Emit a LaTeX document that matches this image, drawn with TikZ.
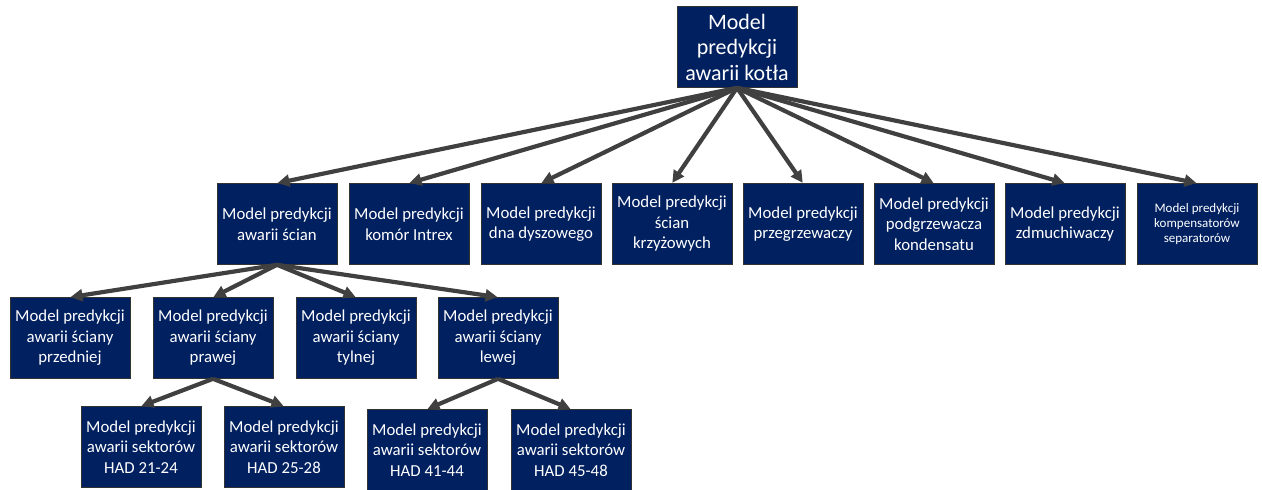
\documentclass[tikz,border=0pt]{standalone}
\usepackage{fontspec}
\setmainfont{Carlito}
\usepackage{xcolor}
\usetikzlibrary{arrows.meta,positioning}
\definecolor{boxblue}{RGB}{0,32,96}
\definecolor{arrowgray}{RGB}{64,64,64}

\begin{document}
\begin{tikzpicture}[x=1pt,y=-1pt,>=Latex,
  box/.style={rectangle,draw=black!80,line width=0.6pt,fill=boxblue,text=white,
    minimum width=120pt,minimum height=81pt,align=center,inner sep=2pt,
    font=\fontsize{16.8}{20.5}\selectfont},
  rootbox/.style={box,font=\fontsize{22}{25.5}\selectfont},
  smallbox/.style={box,font=\fontsize{13}{15}\selectfont},
  link/.style={-{Triangle[length=12pt,width=12pt]},line width=4.2pt,arrowgray,shorten >=0.5pt}]
  \useasboundingbox (0,0) rectangle (1262,490);
  % root
  \node[rootbox] (root) at (737,47) {Model\\predykcji\\awarii kotła};
  % second level
  \node[box] (walls)  at (277,224) {Model predykcji\\awarii ścian};
  \node[box] (intrex) at (409,224) {Model predykcji\\komór Intrex};
  \node[box] (bottom) at (541,224) {Model predykcji\\dna dyszowego};
  \node[box] (cross)  at (672,224) {Model predykcji\\ścian\\krzyżowych};
  \node[box] (super)  at (803,224) {Model predykcji\\przegrzewaczy};
  \node[box] (reheat) at (934,224) {Model predykcji\\podgrzewacza\\kondensatu};
  \node[box] (blower) at (1065,224) {Model predykcji\\zdmuchiwaczy};
  \node[smallbox] (comp) at (1197,224) {Model predykcji\\kompensatorów\\separatorów};
  % walls
  \node[box] (front) at (70,338)  {Model predykcji\\awarii ściany\\przedniej};
  \node[box] (right) at (213,338) {Model predykcji\\awarii ściany\\prawej};
  \node[box] (back)  at (356,338) {Model predykcji\\awarii ściany\\tylnej};
  \node[box] (left)  at (498,338) {Model predykcji\\awarii ściany\\lewej};
  % sectors
  \node[box] (had21) at (141,447) {Model predykcji\\awarii sektorów\\HAD 21-24};
  \node[box] (had25) at (284,447) {Model predykcji\\awarii sektorów\\HAD 25-28};
  \node[box] (had41) at (427,450) {Model predykcji\\awarii sektorów\\HAD 41-44};
  \node[box] (had45) at (571,450) {Model predykcji\\awarii sektorów\\HAD 45-48};
  % connectors
  \foreach \n in {walls,intrex,bottom,cross,super,reheat,blower,comp}
    \draw[link] (root.south) -- (\n.north);
  \foreach \n in {front,right,back,left}
    \draw[link] (walls.south) -- (\n.north);
  \draw[link] (right.south) -- (had21.north);
  \draw[link] (right.south) -- (had25.north);
  \draw[link] (left.south) -- (had41.north);
  \draw[link] (left.south) -- (had45.north);
\end{tikzpicture}
\end{document}
